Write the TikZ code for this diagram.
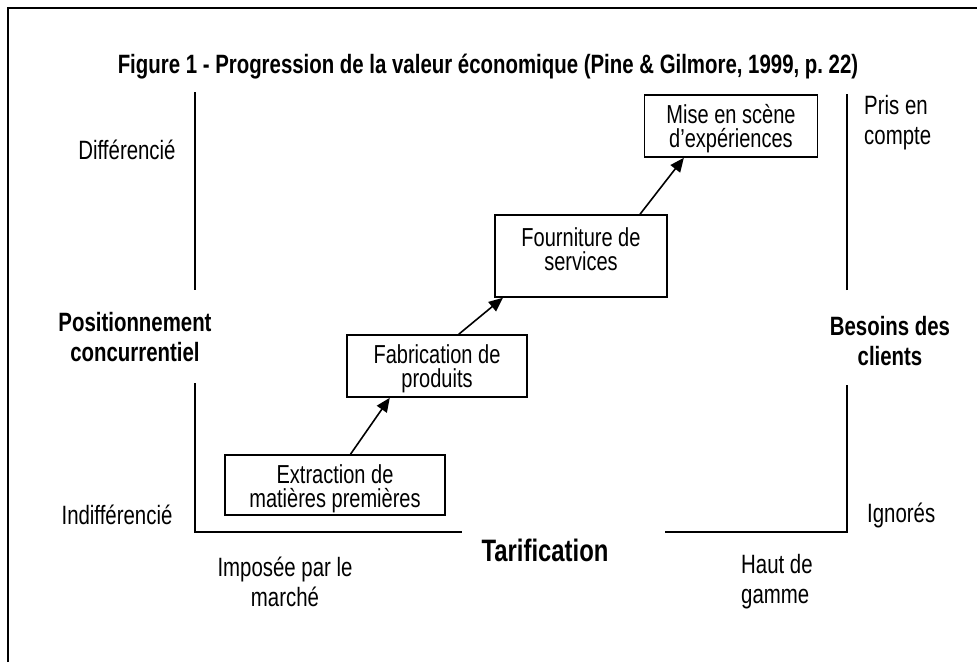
\documentclass[tikz,border=0pt]{standalone}
\usepackage{fontspec}
\setmainfont[FakeStretch=0.77]{Liberation Sans}
\usetikzlibrary{arrows.meta,calc}
\begin{document}
\begin{tikzpicture}[x=1pt,y=-1pt]
\tikzset{
  lab/.style={font=\fontsize{26.5}{30}\selectfont, align=center, inner sep=0pt},
  blab/.style={font=\fontsize{26.5}{30}\selectfont\bfseries, align=center, inner sep=0pt},
  stage/.style={draw, line width=1.6pt, inner sep=0pt},
  stagetext/.style={font=\fontsize{26}{24}\selectfont, align=center, inner sep=0pt, anchor=north, yshift=-10pt},
  axisline/.style={line width=1.6pt},
  arr/.style={line width=1.6pt, -{Triangle[length=14pt,width=12pt]}}
}
\useasboundingbox (0,0) rectangle (977,662);
\fill[white] (0,0) rectangle (977,662);
\draw[line width=2pt] (8,662) -- (8,8) -- (977,8);

\node[blab] (title) at (488,67) {Figure 1 - Progression de la valeur économique (Pine \& Gilmore, 1999, p.~22)};

% axes
\draw[axisline] (195,92) -- (195,290);
\draw[axisline] (195,383) -- (195,532) -- (462,532);
\draw[axisline] (665,532) -- (847,532) -- (847,385);
\draw[axisline] (847,290) -- (847,94);

% axis labels
\node[lab] (diff) at (127,150) {Différencié};
\node[lab] (indiff) at (117,515) {Indifférencié};
\node[blab] (pos) at (135,337) {Positionnement\\concurrentiel};
\node[blab, font=\fontsize{31}{34}\selectfont\bfseries] (tarif) at (545,550) {Tarification};
\node[lab] (impos) at (285,582) {Imposée par le\\marché};
\node[lab, anchor=west, align=left] (haut) at (741,582) {Haut de\\gamme};
\node[lab, anchor=west, align=left] (pris) at (864,123) {Pris en\\compte};
\node[lab, anchor=west] (ign) at (867,515) {Ignorés};
\node[blab] (besoins) at (890,341) {Besoins des\\clients};

% stages
\node[stage, minimum width=220pt, minimum height=60pt] (ext) at (335,485) {};
\node[stage, minimum width=180pt, minimum height=62pt] (fab) at (437,366) {};
\node[stage, minimum width=172pt, minimum height=82pt] (fou) at (581,256) {};
\node[stage, minimum width=173pt, minimum height=62pt] (mise) at (731,126) {};
\node[stagetext] (extt) at (ext.north) {Extraction de\\matières premières};
\node[stagetext] (fabt) at (fab.north) {Fabrication de\\produits};
\node[stagetext, yshift=-3pt] (fout) at (fou.north) {Fourniture de\\services};
\node[stagetext] (miset) at (mise.north) {Mise en scène\\d'expériences};

% arrows
\draw[arr] ($(ext.north west)!0.57!(ext.north east)$) -- ($(fab.south west)!0.24!(fab.south east)$);
\draw[arr] ($(fab.north west)!0.62!(fab.north east)$) -- ($(fou.south west)!0.05!(fou.south east)$);
\draw[arr] ($(fou.north west)!0.84!(fou.north east)$) -- ($(mise.south west)!0.23!(mise.south east)$);
\end{tikzpicture}
\end{document}
